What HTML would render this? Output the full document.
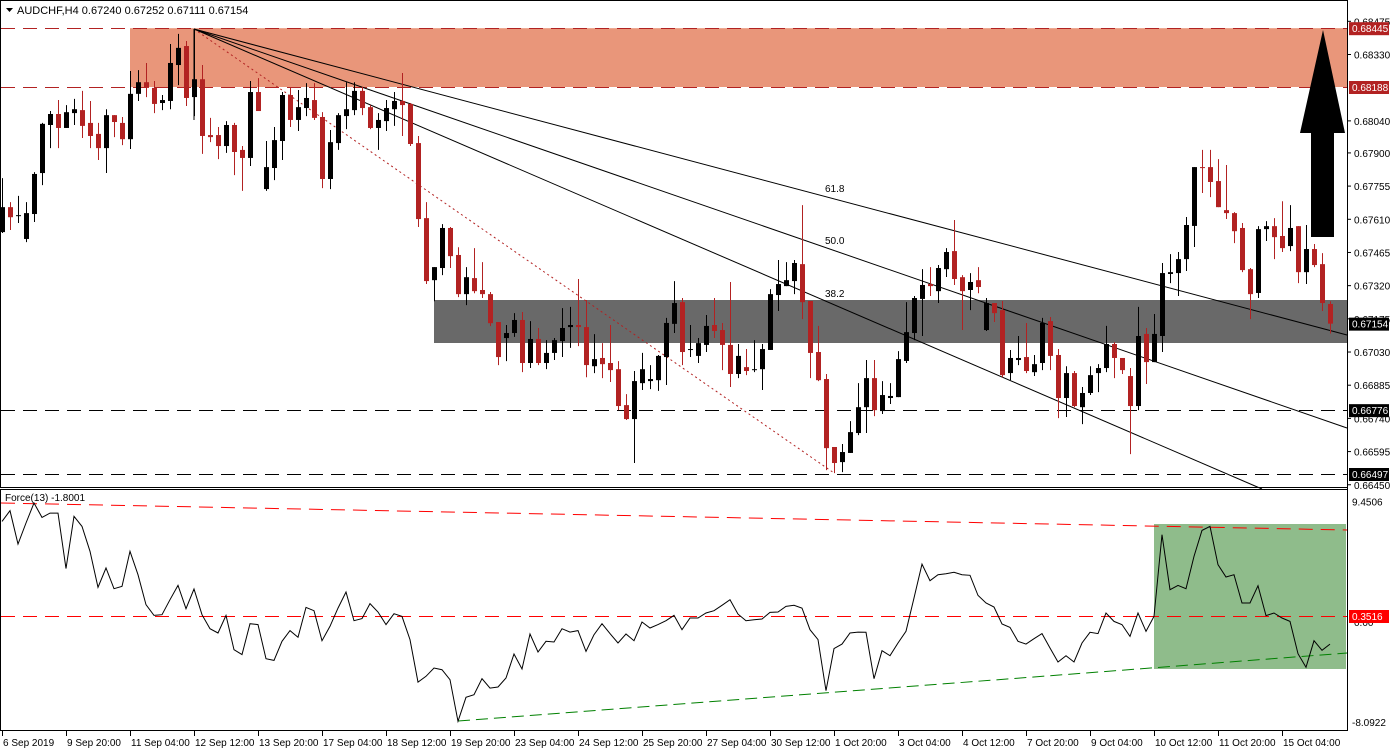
<!DOCTYPE html>
<html><head><meta charset="utf-8">
<style>
html,body{margin:0;padding:0;background:#fff;}
svg{display:block;font-family:"Liberation Sans",sans-serif;}
</style></head>
<body>
<svg id="chart" width="1395" height="753" viewBox="0 0 1395 753" xmlns="http://www.w3.org/2000/svg"></svg>
<script>
// ---- data ----
const openP=[0.67554,0.67663,0.67624,0.67524,0.67633,0.67812,0.68022,0.68070,0.68009,0.68074,0.68087,0.68031,0.67983,0.67921,0.68065,0.68031,0.67960,0.68158,0.68209,0.68184,0.68118,0.68127,0.68284,0.68367,0.68144,0.68222,0.67978,0.67978,0.67930,0.68022,0.67913,0.67878,0.68166,0.67742,0.67834,0.67952,0.68153,0.68044,0.68096,0.68131,0.68057,0.67786,0.67943,0.68061,0.68087,0.68171,0.68100,0.68009,0.68039,0.68091,0.68127,0.68114,0.67943,0.67615,0.67344,0.67397,0.67572,0.67454,0.67283,0.67353,0.67301,0.67283,0.67161,0.67091,0.67113,0.67170,0.66982,0.67087,0.66982,0.67026,0.67078,0.67139,0.67148,0.67139,0.66968,0.67004,0.66982,0.66955,0.66798,0.66737,0.66894,0.66903,0.66907,0.67008,0.67153,0.67248,0.67039,0.67013,0.67061,0.67148,0.67126,0.67061,0.66934,0.66964,0.66951,0.66955,0.67039,0.67279,0.67318,0.67340,0.67414,0.67253,0.67030,0.66912,0.66615,0.66549,0.66589,0.66676,0.66789,0.66916,0.66772,0.66829,0.66833,0.66991,0.67113,0.67262,0.67327,0.67296,0.67392,0.67471,0.67357,0.67301,0.67344,0.67126,0.67244,0.67213,0.66938,0.66995,0.67008,0.66942,0.66982,0.67165,0.67017,0.66829,0.66938,0.66789,0.66851,0.66938,0.66960,0.67065,0.67004,0.66925,0.66794,0.67109,0.66986,0.67100,0.67371,0.67375,0.67436,0.67581,0.67838,0.67838,0.67777,0.67650,0.67637,0.67572,0.67392,0.67288,0.67567,0.67580,0.67537,0.67493,0.67580,0.67379,0.67480,0.67414,0.67240];
const highP=[0.67790,0.67685,0.67712,0.67685,0.67816,0.68031,0.68083,0.68131,0.68109,0.68136,0.68171,0.68127,0.68031,0.68091,0.68065,0.68057,0.68258,0.68262,0.68293,0.68214,0.68153,0.68376,0.68420,0.68389,0.68441,0.68284,0.68053,0.68013,0.68039,0.68031,0.67930,0.68214,0.68227,0.67952,0.68013,0.68166,0.68188,0.68175,0.68205,0.68205,0.68078,0.68000,0.68074,0.68209,0.68209,0.68188,0.68109,0.68074,0.68131,0.68166,0.68249,0.68118,0.67974,0.67685,0.67401,0.67589,0.67576,0.67488,0.67401,0.67484,0.67423,0.67292,0.67161,0.67148,0.67200,0.67205,0.67165,0.67135,0.67082,0.67091,0.67222,0.67227,0.67349,0.67257,0.67108,0.67069,0.67148,0.66990,0.66846,0.66947,0.67026,0.66973,0.67017,0.67179,0.67340,0.67266,0.67148,0.67091,0.67192,0.67266,0.67157,0.67336,0.67065,0.67043,0.67082,0.67065,0.67305,0.67432,0.67423,0.67432,0.67672,0.67253,0.67144,0.66934,0.66615,0.66628,0.66728,0.66894,0.66995,0.66995,0.66903,0.66894,0.67034,0.67248,0.67275,0.67392,0.67401,0.67410,0.67484,0.67607,0.67366,0.67375,0.67401,0.67266,0.67244,0.67253,0.67039,0.67100,0.67157,0.67017,0.67179,0.67183,0.67043,0.66968,0.66947,0.66877,0.66968,0.66977,0.67144,0.67073,0.67004,0.66960,0.67227,0.67135,0.67196,0.67419,0.67458,0.67467,0.67620,0.67838,0.67913,0.67913,0.67873,0.67847,0.67641,0.67594,0.67397,0.67580,0.67602,0.67615,0.67689,0.67672,0.67580,0.67585,0.67502,0.67462,0.67252];
const lowP=[0.67550,0.67563,0.67594,0.67510,0.67598,0.67759,0.67921,0.67921,0.68009,0.68022,0.67965,0.67921,0.67869,0.67812,0.67969,0.67934,0.67917,0.68127,0.68144,0.68074,0.68087,0.68091,0.68196,0.68105,0.68061,0.67896,0.67947,0.67873,0.67900,0.67803,0.67734,0.67843,0.68083,0.67734,0.67781,0.67869,0.68013,0.67996,0.68061,0.68044,0.67746,0.67742,0.67913,0.68004,0.68065,0.68065,0.68004,0.67913,0.67996,0.68018,0.67974,0.67930,0.67576,0.67327,0.67252,0.67366,0.67397,0.67270,0.67235,0.67287,0.67266,0.67143,0.66973,0.66990,0.67096,0.66942,0.66960,0.66973,0.66955,0.66995,0.67008,0.67048,0.67056,0.66920,0.66938,0.66916,0.66899,0.66776,0.66733,0.66545,0.66864,0.66868,0.66860,0.66886,0.67113,0.66973,0.67008,0.66982,0.67030,0.67091,0.66951,0.66877,0.66916,0.66929,0.66942,0.66864,0.67039,0.67209,0.67318,0.67283,0.67174,0.66916,0.66903,0.66514,0.66501,0.66505,0.66589,0.66667,0.66676,0.66750,0.66759,0.66803,0.66833,0.66982,0.67082,0.67100,0.67275,0.67244,0.67358,0.67323,0.67126,0.67213,0.67287,0.67122,0.67161,0.66920,0.66907,0.66973,0.66938,0.66925,0.66951,0.66951,0.66741,0.66746,0.66789,0.66715,0.66842,0.66855,0.66942,0.66916,0.66934,0.66584,0.66776,0.66890,0.66986,0.67030,0.67331,0.67275,0.67384,0.67489,0.67725,0.67707,0.67663,0.67611,0.67506,0.67379,0.67174,0.67266,0.67515,0.67436,0.67467,0.67471,0.67331,0.67327,0.67401,0.67209,0.67111];
const closeP=[0.67663,0.67619,0.67628,0.67637,0.67808,0.68027,0.68070,0.68009,0.68078,0.68091,0.68018,0.67974,0.67921,0.68065,0.68035,0.67960,0.68158,0.68209,0.68184,0.68114,0.68131,0.68293,0.68359,0.68140,0.68222,0.67974,0.67969,0.67930,0.68022,0.67904,0.67878,0.68166,0.68083,0.67838,0.67956,0.68153,0.68044,0.68100,0.68140,0.68053,0.67786,0.67947,0.68065,0.68091,0.68171,0.68096,0.68009,0.68044,0.68096,0.68127,0.68109,0.67939,0.67611,0.67340,0.67401,0.67572,0.67449,0.67283,0.67357,0.67296,0.67283,0.67156,0.67008,0.67113,0.67170,0.66982,0.67087,0.66982,0.67026,0.67082,0.67135,0.67148,0.67139,0.66973,0.66999,0.66977,0.66951,0.66794,0.66737,0.66903,0.66955,0.66912,0.67013,0.67157,0.67244,0.67030,0.67043,0.67069,0.67144,0.67122,0.67061,0.66934,0.67013,0.66947,0.66955,0.67043,0.67283,0.67327,0.67344,0.67419,0.67248,0.67026,0.66907,0.66610,0.66545,0.66593,0.66680,0.66789,0.66916,0.66776,0.66842,0.66838,0.66999,0.67117,0.67266,0.67323,0.67318,0.67397,0.67467,0.67349,0.67296,0.67336,0.67314,0.67244,0.67200,0.66929,0.67004,0.67004,0.66947,0.66977,0.67157,0.67013,0.66829,0.66938,0.66794,0.66851,0.66929,0.66960,0.67065,0.67004,0.66951,0.66794,0.67100,0.66986,0.67109,0.67375,0.67379,0.67436,0.67585,0.67838,0.67834,0.67773,0.67663,0.67637,0.67558,0.67388,0.67283,0.67567,0.67580,0.67532,0.67484,0.67572,0.67379,0.67480,0.67410,0.67244,0.67154];
const forceVals=[7.60,8.42,5.87,7.48,9.01,7.91,8.24,8.24,3.98,7.99,7.22,5.31,2.55,4.03,2.44,2.62,5.31,3.52,1.22,0.40,0.45,1.60,2.70,0.91,2.42,0.45,-0.62,-0.95,0.40,-2.23,-2.61,-0.24,-0.31,-2.92,-3.05,-1.59,-0.77,-1.28,1.01,0.76,-1.54,-0.44,0.96,2.19,-0.01,0.15,1.30,0.66,-0.31,0.53,0.32,-1.46,-4.71,-4.27,-3.63,-3.76,-4.53,-7.72,-5.88,-5.68,-4.45,-5.17,-5.09,-4.40,-2.56,-3.71,-1.03,-2.41,-1.59,-1.64,-0.62,-0.88,-0.77,-2.36,-1.08,-0.24,-1.00,-1.72,-1.03,-1.54,-0.11,-0.57,-0.31,-0.01,0.40,-0.70,0.20,0.20,0.58,0.76,1.17,1.60,0.50,-0.01,0.07,0.12,0.63,0.66,1.09,1.17,0.96,-0.70,-1.46,-5.37,-2.15,-1.80,-0.95,-0.88,-0.90,-4.45,-2.31,-2.69,-1.72,-0.82,1.73,4.33,3.06,3.52,3.59,3.70,3.52,3.47,1.93,1.35,1.04,-0.26,-0.52,-1.59,-1.80,-1.39,-1.00,-2.10,-3.17,-2.69,-3.17,-1.72,-0.90,-1.00,0.58,-0.06,-0.31,-1.21,0.58,-0.82,0.32,6.58,2.37,2.70,2.44,4.92,6.91,7.22,4.28,3.34,3.52,1.35,1.35,2.67,0.38,0.58,0.20,-0.06,-2.54,-3.58,-1.54,-2.28,-1.80];
const priceTicks=[0.68475,0.68330,0.68040,0.67900,0.67755,0.67610,0.67465,0.67320,0.67175,0.67030,0.66885,0.66740,0.66595,0.66450];
const timeLabels=["6 Sep 2019","9 Sep 20:00","11 Sep 04:00","12 Sep 12:00","13 Sep 20:00","17 Sep 04:00","18 Sep 12:00","19 Sep 20:00","23 Sep 04:00","24 Sep 12:00","25 Sep 20:00","27 Sep 04:00","30 Sep 12:00","1 Oct 20:00","3 Oct 04:00","4 Oct 12:00","7 Oct 20:00","9 Oct 04:00","10 Oct 12:00","11 Oct 20:00","15 Oct 04:00"];
const levels={resTop:0.68445,resBot:0.68188,sup1:0.66776,sup2:0.66497,last:0.67154,forceLvl:0.3516,forceMax:9.4506,forceMin:-8.0922};
const fibLabels=["61.8","50.0","38.2"];

// ---- scales ----
const NS="http://www.w3.org/2000/svg";
const svg=document.getElementById('chart');
const PR=1347;
function xAt(i){return 2+8*i;}
function yP(p){return 87+(0.68188-p)*22886;}
function yF(v){return 616-(v-0.3516)*13.05;}
function mk(tag,attrs,parent){const e=document.createElementNS(NS,tag);for(const k in attrs)e.setAttribute(k,attrs[k]);(parent||svg).appendChild(e);return e;}

// panels
const frame=mk('g',{});


mk('rect',{x:0.5,y:0.5,width:PR,height:487,fill:'#fff',stroke:'#000'},frame);
mk('rect',{x:0.5,y:489.5,width:PR,height:241,fill:'#fff',stroke:'#000'},frame);

// resistance zone
const rz=mk('rect',{x:130,y:yP(levels.resTop),width:PR-130,height:yP(levels.resBot)-yP(levels.resTop),fill:'#E9967A'});


// support zone
const sz=mk('rect',{x:434,y:300,width:PR-434,height:43,fill:'#696969'});



// horizontal dashed levels
[[levels.resTop,'#B22222'],[levels.resBot,'#B22222'],[levels.sup1,'#000'],[levels.sup2,'#000']].forEach((l,k)=>{
  const ln=mk('line',{x1:1,x2:PR,y1:Math.round(yP(l[0]))+0.5,y2:Math.round(yP(l[0]))+0.5,stroke:l[1],'stroke-width':1,'stroke-dasharray':'14,8'});
  
  
});

// red dotted trend
const dt=mk('line',{x1:194,y1:29,x2:834,y2:473,stroke:'#B22222','stroke-dasharray':'2,3'});



// fib fan lines
const fanEnds=[[1347,335],[1347,428],[1262,489]];
fanEnds.forEach((e,k)=>{
  const fl=mk('line',{x1:194,y1:29,x2:e[0],y2:e[1],stroke:'#000','stroke-width':1});
  
  
});
mk('line',{x1:194,y1:29,x2:194,y2:120,stroke:'#000'});
[[825,192],[825,244],[825,297]].forEach((p,k)=>{
  const t=mk('text',{x:p[0],y:p[1],'font-size':10,fill:'#000'});
  t.textContent=fibLabels[k];
  
  
});

// candles
const cg=mk('g',{});


for(let i=0;i<openP.length;i++){
  const x=xAt(i),bull=closeP[i]>=openP[i],col=bull?'#000':'#B22222';
  const g=mk('g',{},cg);
  
  
  mk('line',{x1:x+0.5,x2:x+0.5,y1:yP(highP[i]),y2:yP(lowP[i]),stroke:col},g);
  const t=yP(Math.max(openP[i],closeP[i])),b=yP(Math.min(openP[i],closeP[i]));
  mk('rect',{x:x-2,y:t,width:5,height:Math.max(1,b-t),fill:col},g);
}

// arrow
const ar=mk('polygon',{points:'1311,237 1334,237 1334,133 1345,133 1323,30 1300,133 1311,133',fill:'#000'});



// title
const tt=mk('text',{x:17,y:14,'font-size':11,fill:'#000'});
tt.textContent='AUDCHF,H4  0.67240 0.67252 0.67111 0.67154';


mk('polygon',{points:'6,8 13,8 9.5,12',fill:'#000'});

// right axis
const ax=mk('g',{});


mk('line',{x1:PR+0.5,x2:PR+0.5,y1:0,y2:731,stroke:'#000'},ax);
priceTicks.forEach(p=>{
  const y=yP(p);
  mk('line',{x1:PR,x2:PR+4,y1:y,y2:y,stroke:'#000'},ax);
  const t=mk('text',{x:1354,y:y+4,'font-size':10,fill:'#000'},ax);
  t.textContent=p.toFixed(5);
  
  
});
function tag(v,y,bg,txt,name){
  const g=mk('g',{});
  
  
  mk('rect',{x:1349,y:y-6,width:40,height:13,fill:bg},g);
  const t=mk('text',{x:1352,y:y+4,'font-size':10,fill:'#fff'},g);
  t.textContent=txt;
}
tag(0,yP(levels.resTop),'#B22222',levels.resTop.toFixed(5),'price-tag-resistance-top');
tag(0,yP(levels.resBot),'#B22222',levels.resBot.toFixed(5),'price-tag-resistance-bottom');
tag(0,yP(levels.last),'#000',levels.last.toFixed(5),'price-tag-last');
tag(0,yP(levels.sup1),'#000',levels.sup1.toFixed(5),'price-tag-support-1');
tag(0,yP(levels.sup2),'#000',levels.sup2.toFixed(5),'price-tag-support-2');

// force panel
const fz=mk('rect',{x:1154,y:524,width:192,height:145,fill:'#8FBC8B'});


const rd=mk('line',{x1:1,y1:503,x2:PR,y2:530,stroke:'#FF0000','stroke-dasharray':'14,8'});


const rh=mk('line',{x1:1,y1:616.5,x2:PR,y2:616.5,stroke:'#FF0000','stroke-dasharray':'14,8'});


const gd=mk('line',{x1:458,y1:721,x2:PR,y2:653,stroke:'#008000','stroke-dasharray':'12,6'});


let d='';
forceVals.forEach((v,i)=>{d+=(i?'L':'M')+xAt(i)+','+yF(v).toFixed(1);});
const fp=mk('path',{d:d,fill:'none',stroke:'#000','stroke-width':1});


const ft=mk('text',{x:5,y:501,'font-size':10,fill:'#000'});
ft.textContent='Force(13) -1.8001';


[[levels.forceMax,yF(levels.forceMax)+8],[levels.forceMin,yF(levels.forceMin)]].forEach(a=>{
  const t=mk('text',{x:1352,y:a[1],'font-size':10,fill:'#000'});
  t.textContent=a[0].toFixed(4);
  
  
});
const t0=mk('text',{x:1354,y:626,'font-size':10,fill:'#000'});t0.textContent='0.00';
tag(0,yF(levels.forceLvl),'#FF0000',levels.forceLvl.toFixed(4),'force-level-tag');

// time axis
const tx=mk('g',{});


timeLabels.forEach((s,k)=>{
  const x=2+64*k;
  mk('line',{x1:x+0.5,x2:x+0.5,y1:731,y2:736,stroke:'#000'},tx);
  const t=mk('text',{x:x+1,y:746,'font-size':10,fill:'#000'},tx);
  t.textContent=s;
  
  
});
</script>
</body></html>
